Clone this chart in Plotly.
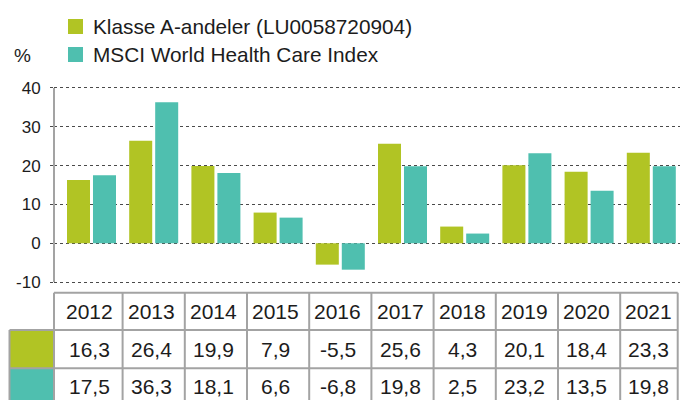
import plotly.graph_objects as go

years = ["2012", "2013", "2014", "2015", "2016", "2017", "2018", "2019", "2020", "2021"]
fund_name = "Klasse A-andeler (LU0058720904)"
index_name = "MSCI World Health Care Index"
fund_values = [16.3, 26.4, 19.9, 7.9, -5.5, 25.6, 4.3, 20.1, 18.4, 23.3]
index_values = [17.5, 36.3, 18.1, 6.6, -6.8, 19.8, 2.5, 23.2, 13.5, 19.8]
y_ticks = [-10, 0, 10, 20, 30, 40]

GREEN = "#B1C424"
TEAL = "#4FBFAF"
TEXT = "#1c1c1c"
LINE = "#a3a3a3"
FONT = "Liberation Sans"

W, H = 680, 400
ML, MT, MB = 54, 84, 114
PT, PB = MT, H - MB  # plot top / bottom in pixels


def py(p):
    """pixel row -> paper y"""
    return (PB - p) / (PB - PT)


def px(p):
    """pixel column -> paper x"""
    return (p - ML) / (W - ML)


fig = go.Figure()
fig.add_trace(go.Bar(x=years, y=fund_values, name=fund_name, marker_color=GREEN,
                     marker_line_width=0, showlegend=False))
fig.add_trace(go.Bar(x=years, y=index_values, name=index_name, marker_color=TEAL,
                     marker_line_width=0, showlegend=False))

shapes = []
annotations = []

# y axis line
shapes.append(dict(type="line", xref="paper", yref="y", x0=0, x1=0,
                   y0=min(y_ticks), y1=max(y_ticks), line=dict(color=LINE, width=2)))

# ---- table ----
n = len(years)
top_h, r1, r2, bot = 292.7, 330, 368.3, 406
# colour cells
shapes.append(dict(type="rect", xref="paper", yref="paper", x0=px(9.5), x1=0,
                   y0=py(r1), y1=py(r2), fillcolor=GREEN, line=dict(width=0), layer="below"))
shapes.append(dict(type="rect", xref="paper", yref="paper", x0=px(9.5), x1=0,
                   y0=py(r2), y1=py(bot), fillcolor=TEAL, line=dict(width=0), layer="below"))
# horizontal lines
shapes.append(dict(type="line", xref="paper", yref="paper", x0=0, x1=px(677.7),
                   y0=py(top_h), y1=py(top_h), line=dict(color=LINE, width=2)))
for r in (r1, r2):
    shapes.append(dict(type="line", xref="paper", yref="paper", x0=px(9.5), x1=px(677.7),
                       y0=py(r), y1=py(r), line=dict(color=LINE, width=2)))
# vertical lines
shapes.append(dict(type="line", xref="paper", yref="paper", x0=px(9.5), x1=px(9.5),
                   y0=py(r1), y1=py(bot), line=dict(color=LINE, width=2)))
shapes.append(dict(type="line", xref="paper", yref="paper", x0=0, x1=0,
                   y0=py(top_h), y1=py(bot), line=dict(color=LINE, width=2)))
for i in range(n - 1):
    shapes.append(dict(type="line", xref="x", yref="paper", x0=i + 0.5, x1=i + 0.5,
                       y0=py(top_h), y1=py(bot), line=dict(color=LINE, width=2)))
shapes.append(dict(type="line", xref="paper", yref="paper", x0=px(677.7), x1=px(677.7),
                   y0=py(top_h), y1=py(bot), line=dict(color=LINE, width=2)))


def fmt(v):
    return f"{v:.1f}".replace(".", ",")


TFS = 21
row_centers = [(top_h + r1) / 2, (r1 + r2) / 2, (r2 + bot) / 2 - 1]
for i, yr in enumerate(years):
    cx = i - 0.04
    annotations.append(dict(x=cx, xref="x", y=py(row_centers[0]), yref="paper", text=yr,
                            showarrow=False, font=dict(size=TFS, color=TEXT, family=FONT),
                            xanchor="center", yanchor="middle"))
    annotations.append(dict(x=cx, xref="x", y=py(row_centers[1]), yref="paper",
                            text=fmt(fund_values[i]), showarrow=False,
                            font=dict(size=TFS, color=TEXT, family=FONT),
                            xanchor="center", yanchor="middle"))
    annotations.append(dict(x=cx, xref="x", y=py(row_centers[2]), yref="paper",
                            text=fmt(index_values[i]), showarrow=False,
                            font=dict(size=TFS, color=TEXT, family=FONT),
                            xanchor="center", yanchor="middle"))

# ---- legend (custom) ----
for name, col, cy in ((fund_name, GREEN, 26.5), (index_name, TEAL, 54.5)):
    shapes.append(dict(type="rect", xref="paper", yref="paper", x0=px(68), x1=px(83),
                       y0=py(cy - 7.5), y1=py(cy + 7.5), fillcolor=col, line=dict(width=0)))
    annotations.append(dict(x=px(91), xref="paper", y=py(cy), yref="paper", text=name,
                            showarrow=False, font=dict(size=20.8, color=TEXT, family=FONT),
                            xanchor="left", yanchor="middle"))

annotations.append(dict(x=px(12), xref="paper", y=py(55), yref="paper", text="%",
                        showarrow=False, font=dict(size=19, color=TEXT, family=FONT),
                        xanchor="left", yanchor="middle"))

spacing = 62.2
x0_px = 91.5
fig.update_layout(
    width=W, height=H,
    margin=dict(l=ML, r=0, t=MT, b=MB, pad=0),
    paper_bgcolor="white", plot_bgcolor="white",
    barmode="group", bargap=0.164, bargroupgap=0.115,
    font=dict(family=FONT, color=TEXT),
    shapes=shapes, annotations=annotations,
    showlegend=False,
    xaxis=dict(range=[-(x0_px - ML) / spacing, (W - x0_px) / spacing],
               showticklabels=False, showgrid=False, zeroline=False, showline=False,
               ticks="", fixedrange=True),
    yaxis=dict(range=[-11, 41], tickvals=y_ticks, ticktext=[str(v) for v in y_ticks],
               showgrid=True, gridcolor="#4a4a4a", gridwidth=1, griddash="3px,3px",
               zeroline=False, showline=False, ticks="outside", ticklen=3,
               tickcolor="#4a4a4a", tickwidth=1, fixedrange=True,
               tickfont=dict(size=17, color=TEXT, family=FONT), ticklabelstandoff=6),
)

fig.write_html("out.html", config={"displayModeBar": False},
               post_script="document.body.style.margin='0';document.body.style.overflow='hidden';")
